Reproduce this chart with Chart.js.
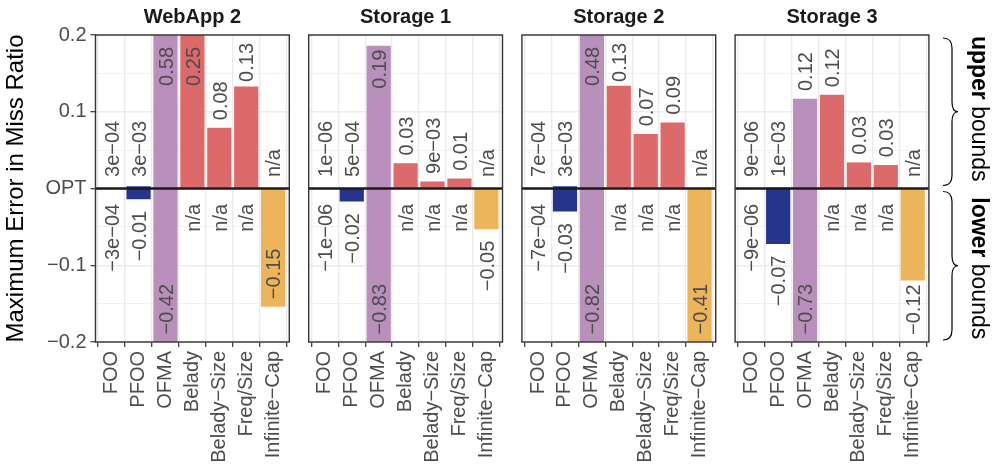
<!DOCTYPE html>
<html>
<head>
<meta charset="utf-8">
<script src="https://cdn.jsdelivr.net/npm/chart.js@4"></script>
<style>
html,body{margin:0;padding:0;background:#fff;}
#wrap{position:relative;width:996px;height:466px;}
.panel{position:absolute;left:0;top:0;width:996px;height:466px;}
</style>
</head>
<body>
<div id="wrap"></div>
<script>
const methods=["FOO","PFOO","OFMA","Belady","Belady−Size","Freq/Size","Infinite−Cap"];
const methodColors=["#9e9e9e","#27348b","#b98fbb","#dc6a6a","#dc6a6a","#dc6a6a","#ecb45b"];
const panelTitles=["WebApp 2","Storage 1","Storage 2","Storage 3"];

// upper / lower bound error per method (null = n/a)
const upperWebApp2=[3e-4,3e-3,0.58,0.25,0.079,0.133,null];
const lowerWebApp2=[-3e-4,-0.014,-0.42,null,null,null,-0.154];
const upperStorage1=[1e-6,5e-4,0.186,0.033,0.009,0.013,null];
const lowerStorage1=[-1e-6,-0.017,-0.83,null,null,null,-0.053];
const upperStorage2=[7e-4,3e-3,0.48,0.134,0.071,0.086,null];
const lowerStorage2=[-7e-4,-0.030,-0.82,null,null,null,-0.41];
const upperStorage3=[9e-6,1e-3,0.117,0.122,0.034,0.0306,null];
const lowerStorage3=[-9e-6,-0.0724,-0.73,null,null,null,-0.12];

const yTickLabels={"20":"0.2","10":"0.1","0":"OPT","-10":"−0.1","-20":"−0.2"};

const uppers=[upperWebApp2,upperStorage1,upperStorage2,upperStorage3];
const lowers=[lowerWebApp2,lowerStorage1,lowerStorage2,lowerStorage3];

const FONT='"Liberation Sans", Arial, Helvetica, sans-serif';
const FS=20;
Chart.defaults.font.family=FONT;
Chart.defaults.animation=false;

function fmt(v){
  if(v===null) return "n/a";
  let s;
  if(Math.abs(v)<0.01){
    const [m,e]=v.toExponential(0).split("e");
    const n=parseInt(e,10);
    s=m+"e"+(n<0?"-":"+")+String(Math.abs(n)).padStart(2,"0");
  } else s=v.toFixed(2);
  return s.replace(/-/g,"−");
}

function drawRot(ctx,text,x,y,align){
  ctx.save(); ctx.translate(x,y); ctx.rotate(-Math.PI/2);
  ctx.textAlign=align; ctx.textBaseline="alphabetic";
  ctx.fillText(text,0,FS*0.36); ctx.restore();
}

function brace(ctx,y1,y2){
  const xl=943, xs=952, xt=958, r=10, ym=(y1+y2)/2;
  ctx.beginPath();
  ctx.moveTo(xl,y1);
  ctx.quadraticCurveTo(xs,y1,xs,y1+r);
  ctx.lineTo(xs,ym-r);
  ctx.quadraticCurveTo(xs,ym,xt,ym);
  ctx.quadraticCurveTo(xs,ym,xs,ym+r);
  ctx.lineTo(xs,y2-r);
  ctx.quadraticCurveTo(xs,y2,xl,y2);
  ctx.stroke();
}

function sideText(ctx,bold,rest,cy){
  ctx.save();
  ctx.font="bold 23px "+FONT; const wb=ctx.measureText(bold+" ").width;
  ctx.font="23px "+FONT; const wr=ctx.measureText(rest).width;
  ctx.translate(972,cy-(wb+wr)/2); ctx.rotate(Math.PI/2);
  ctx.fillStyle="#000"; ctx.textAlign="left"; ctx.textBaseline="alphabetic";
  ctx.font="bold 23px "+FONT; ctx.fillText(bold,0,0);
  ctx.font="23px "+FONT; ctx.fillText(rest,wb,0);
  ctx.restore();
}

function deco(i){
  return {id:"deco"+i, afterDatasetsDraw(chart){
    const {ctx,chartArea:a,scales:{x,y}}=chart;
    const up=uppers[i], lo=lowers[i];
    ctx.save();
    ctx.font=FS+"px "+FONT; ctx.fillStyle="#4d4d4d";
    methods.forEach((m,j)=>{
      const px=x.getPixelForValue(j);
      // upper
      let t=fmt(up[j]), w=ctx.measureText(t).width, v=up[j];
      let start=y.getPixelForValue(Math.max(v??0,0.005)+0.01);
      if(start-w<a.top+8){
        start=a.top+8+w;
        if(start>y.getPixelForValue(v)){
          drawRot(ctx,t,px,Math.max(y.getPixelForValue(v)+4,a.top+12),"right");
        } else drawRot(ctx,t,px,start,"left");
      } else drawRot(ctx,t,px,start,"left");
      // lower
      t=fmt(lo[j]); w=ctx.measureText(t).width; v=lo[j];
      start=y.getPixelForValue(Math.min(v??0,-0.005)-0.015)+w;
      if(start>a.bottom-7){
        start=a.bottom-7;
        if(start-w<y.getPixelForValue(v)) start=Math.min(y.getPixelForValue(v),a.bottom)-7.5;
      }
      drawRot(ctx,t,px,start,"left");
    });
    // OPT line
    const y0=y.getPixelForValue(0);
    ctx.strokeStyle="#1a1a1a"; ctx.lineWidth=2.6;
    ctx.beginPath(); ctx.moveTo(a.left,y0); ctx.lineTo(a.right,y0); ctx.stroke();
    // panel border
    ctx.strokeStyle="#333"; ctx.lineWidth=1.4;
    ctx.strokeRect(a.left,a.top,a.right-a.left,a.bottom-a.top);
    // strip title
    ctx.fillStyle="#1a1a1a"; ctx.font="bold "+FS+"px "+FONT;
    ctx.textAlign="center"; ctx.textBaseline="alphabetic";
    ctx.fillText(panelTitles[i],(a.left+a.right)/2,22.5);
    if(i===0){
      ctx.save(); ctx.translate(23,(a.top+a.bottom)/2); ctx.rotate(-Math.PI/2);
      ctx.font="24px "+FONT; ctx.fillStyle="#000"; ctx.textAlign="center";
      ctx.fillText("Maximum Error in Miss Ratio",0,0); ctx.restore();
    }
    if(i===3){
      ctx.strokeStyle="#000"; ctx.lineWidth=1.2;
      brace(ctx,a.top+3,y0-3); brace(ctx,y0+3,a.bottom-2);
      sideText(ctx,"upper","bounds",(a.top+y0)/2-3);
      sideText(ctx,"lower","bounds",(y0+a.bottom)/2+3);
    }
    ctx.restore();
  }};
}

const wrap=document.getElementById("wrap");
panelTitles.forEach((title,i)=>{
  const left=95.5+i*213.2, right=left+193.8;
  const div=document.createElement("div"); div.className="panel"; wrap.appendChild(div);
  const cv=document.createElement("canvas"); div.appendChild(cv);
  const up=uppers[i], lo=lowers[i];
  new Chart(cv,{
    type:"bar",
    data:{datasets:[{
      data:methods.map((m,j)=>({x:j,y:[lo[j]??0,up[j]??0]})),
      backgroundColor:methodColors, borderWidth:0,
      barPercentage:0.9, categoryPercentage:1, clip:0
    }]},
    options:{
      responsive:true, maintainAspectRatio:false,
      layout:{padding:{left:i===0?0:left,right:996-right,top:35,bottom:0}},
      plugins:{legend:{display:false},tooltip:{enabled:false}},
      scales:{
        x:{type:"linear",min:-0.6,max:6.6,offset:false,
          afterBuildTicks:s=>{s.ticks=methods.map((m,j)=>({value:j}));},
          afterFit:s=>{s.height=124;},
          ticks:{autoSkip:false,minRotation:90,maxRotation:90,padding:4,color:"#4d4d4d",
            font:{size:FS},callback:v=>methods[v]},
          grid:{color:"#ebebeb",lineWidth:1.4,tickColor:"#333",tickLength:5,tickWidth:1.2},
          border:{display:false}},
        y:{min:-0.2,max:0.2,
          afterFit:s=>{s.width=i===0?95.5:0;},
          ticks:{display:i===0,stepSize:0.05,autoSkip:false,padding:4,color:"#4d4d4d",font:{size:FS},
            callback:v=>yTickLabels[String(Math.round(v*100))]??""},
          grid:{color:"#ebebeb",drawTicks:i===0,tickLength:5,tickWidth:1.2,
            lineWidth:c=>Math.round(c.tick.value*100)%10===0?1.4:0.7,
            tickColor:c=>Math.round(c.tick.value*100)%10===0?"#333":"rgba(0,0,0,0)"},
          border:{display:false}}
      }
    },
    plugins:[deco(i)]
  });
});
</script>
</body>
</html>
